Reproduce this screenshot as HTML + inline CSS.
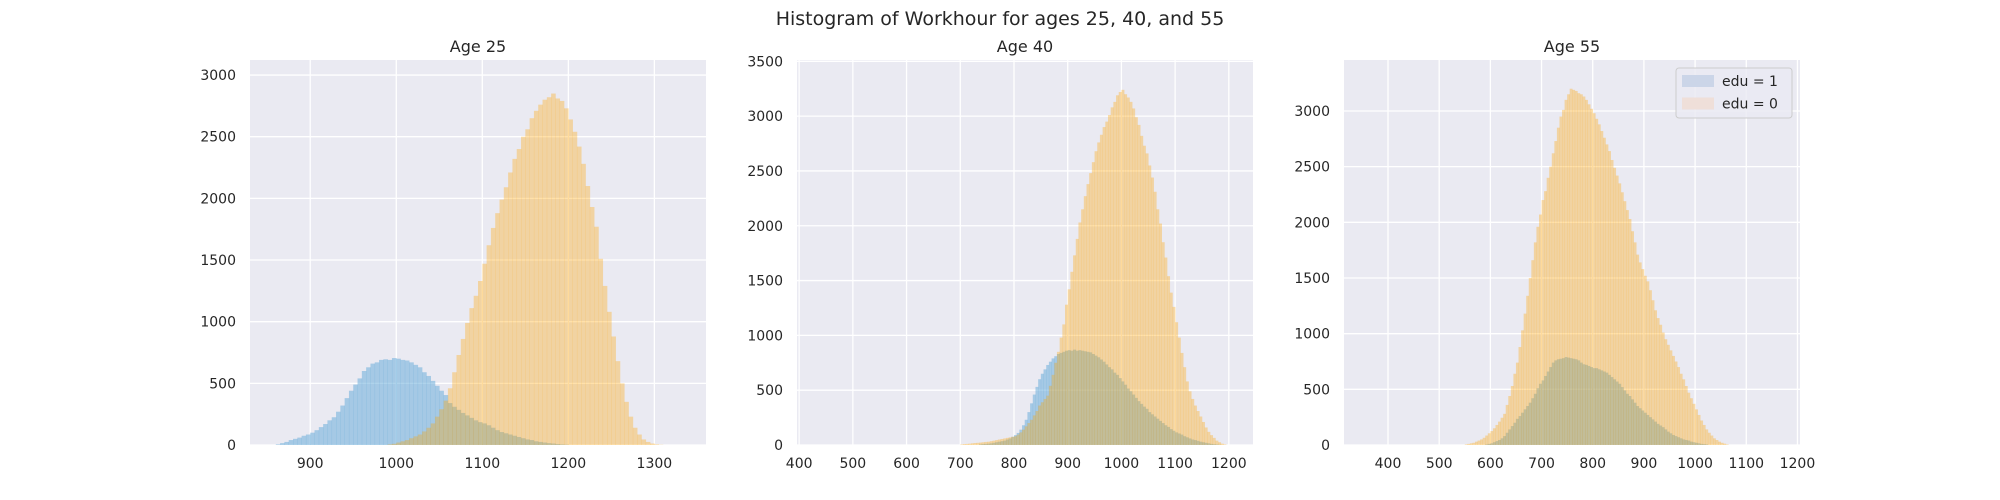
<!DOCTYPE html>
<html><head><meta charset="utf-8"><style>
html,body{margin:0;padding:0;background:#fff;}
svg{display:block;font-family:"DejaVu Sans","Liberation Sans",sans-serif;}
</style></head><body>
<svg id="fig" width="2000" height="500" viewBox="0 0 2000 500" xmlns="http://www.w3.org/2000/svg">
<text x="1000" y="25" text-anchor="middle" font-size="19" fill="#262626">Histogram of Workhour for ages 25, 40, and 55</text>
</svg>
<script>
const binWidth = 5;
// Panel titles and axes
const panelTitles = ["Age 25", "Age 40", "Age 55"];
const xDomains = [[830, 1360], [396, 1245], [314, 1205]];
const yMaxes = [3122, 3512, 3458];
const xTicks = [[900,1000,1100,1200,1300],[400,500,600,700,800,900,1000,1100,1200],[400,500,600,700,800,900,1000,1100,1200]];
const yTicks = [[0,500,1000,1500,2000,2500,3000],[0,500,1000,1500,2000,2500,3000,3500],[0,500,1000,1500,2000,2500,3000]];
// Series: start bin and counts (bin width 5)
const edu1Start = [860, 735, 590];
const edu0Start = [990, 700, 550];
const age25Edu1 = [5,15,25,40,50,60,75,85,100,120,145,170,200,225,270,320,380,440,490,540,600,630,660,670,690,695,690,705,700,690,685,670,650,630,590,560,520,480,440,405,340,310,285,260,240,220,200,185,175,160,140,120,105,95,85,75,65,55,45,40,30,25,20,15,12,8,5,3];
const age25Edu0 = [5,10,20,30,40,55,70,85,110,140,175,230,290,360,460,590,730,860,990,1110,1210,1330,1470,1620,1760,1880,1990,2090,2210,2320,2400,2500,2560,2650,2710,2760,2800,2820,2850,2810,2790,2730,2640,2540,2420,2280,2100,1930,1770,1510,1290,1080,880,680,500,350,230,140,85,45,25,12,5,2];
const age40Edu1 = [5,8,10,12,15,20,25,30,35,40,50,60,75,90,110,140,180,230,300,380,460,530,600,650,690,730,760,790,810,830,840,850,860,865,860,870,860,865,860,855,850,845,830,815,800,780,760,735,710,690,660,640,610,580,550,515,490,460,430,400,375,350,330,300,280,260,240,220,200,180,165,145,130,115,105,95,80,70,60,50,45,38,30,25,20,15,10,7,5,3];
const age40Edu0 = [5,8,10,12,15,18,20,22,25,28,30,35,40,45,50,55,60,65,70,75,80,95,115,140,170,200,230,270,310,360,390,420,450,540,640,750,850,980,1100,1280,1420,1580,1730,1880,2030,2150,2270,2380,2480,2580,2680,2760,2830,2900,2950,3010,3080,3130,3190,3220,3240,3200,3170,3130,3070,2990,2920,2820,2730,2660,2550,2440,2310,2150,2020,1850,1710,1540,1390,1260,1120,980,840,710,580,490,420,360,310,260,210,160,120,90,65,40,25,12,5];
const age55Edu1 = [5,10,15,25,35,45,60,80,110,140,170,200,235,260,290,320,350,380,420,460,510,550,580,620,660,700,740,760,770,775,780,790,785,780,775,770,760,740,725,720,710,700,690,690,680,670,660,650,630,610,590,570,550,520,490,460,440,410,380,350,330,310,290,270,250,230,210,190,175,160,140,120,105,90,80,70,60,50,45,40,30,25,20,15,10,8,5];
const age55Edu0 = [5,10,15,20,30,40,50,65,85,105,125,150,180,210,245,280,360,440,530,640,740,880,1030,1180,1340,1500,1660,1820,1960,2070,2200,2280,2400,2500,2620,2730,2850,2950,3010,3100,3150,3200,3190,3180,3160,3150,3130,3100,3060,3020,2980,2930,2880,2820,2760,2700,2640,2560,2490,2420,2350,2270,2190,2110,2030,1920,1820,1710,1640,1580,1520,1470,1390,1300,1210,1140,1080,1010,950,900,850,800,750,700,640,590,530,470,420,370,320,270,220,180,140,110,85,60,45,30,20,12,5];
const edu1Series = [age25Edu1, age40Edu1, age55Edu1];
const edu0Series = [age25Edu0, age40Edu0, age55Edu0];
const legendLabels = ["edu = 1", "edu = 0"];

const NS = "http://www.w3.org/2000/svg";
const svg = document.getElementById("fig");
const panelLeft = [250, 797, 1344];
const panelW = 456, plotTop = 60, plotBottom = 445;
function mk(tag, attrs, parent){const e=document.createElementNS(NS,tag);for(const k in attrs)e.setAttribute(k,attrs[k]);parent.appendChild(e);return e;}

for (let p=0;p<3;p++){
  const L=panelLeft[p], x0=xDomains[p][0], x1=xDomains[p][1], ym=yMaxes[p];
  const xs=v=>L+(v-x0)/(x1-x0)*panelW;
  const ys=v=>plotBottom-v/ym*(plotBottom-plotTop);
  const g=mk("g",{},svg);
  
  
  const bg=mk("rect",{x:L,y:plotTop,width:panelW,height:plotBottom-plotTop,fill:"#eaeaf2"},g);
  
  
  const clipId="clip"+p;
  const cp=mk("clipPath",{id:clipId},g);mk("rect",{x:L,y:plotTop,width:panelW,height:plotBottom-plotTop},cp);
  xTicks[p].forEach(t=>{
    const X=xs(t);
    const gl=mk("line",{x1:X,x2:X,y1:plotTop,y2:plotBottom,stroke:"#fff","stroke-width":1.3},g);
    
    
    const tl=mk("text",{x:X,y:468,"text-anchor":"middle","font-size":14,fill:"#262626"},g);tl.textContent=t;
    
    
  });
  yTicks[p].forEach(t=>{
    const Y=ys(t);
    const gl=mk("line",{x1:L,x2:L+panelW,y1:Y,y2:Y,stroke:"#fff","stroke-width":1.3},g);
    
    
    const tl=mk("text",{x:L-14,y:Y+5,"text-anchor":"end","font-size":14,fill:"#262626"},g);tl.textContent=t;
    
    
  });
  const bars=mk("g",{"clip-path":"url(#"+clipId+")"},g);
  const draw=(arr,start,color,op,name)=>{
    const sg=mk("g",{fill:color,"fill-opacity":op},bars);
    
    
    arr.forEach((c,i)=>{
      const v=start+i*binWidth;
      const xa=xs(v), xb=xs(v+binWidth);
      const r=mk("rect",{x:xa,y:ys(c),width:xb-xa+0.3,height:plotBottom-ys(c)},sg);
      
      
    });
  };
  draw(edu1Series[p],edu1Start[p],"#5fa8d8",0.5,"edu1-bars");
  draw(edu0Series[p],edu0Start[p],"#ffa500",0.33,"edu0-bars");
  const tt=mk("text",{x:L+panelW/2,y:52,"text-anchor":"middle","font-size":16,fill:"#262626"},g);tt.textContent=panelTitles[p];
  
  
}
// legend
const lg=mk("g",{},svg);


mk("rect",{x:1676,y:68,width:116,height:50,rx:3,fill:"#eaeaf2","fill-opacity":0.8,stroke:"#cccccc"},lg);
const swC=["#cbd5e8","#efdfd9"];
legendLabels.forEach((lab,i)=>{
  const e=mk("g",{},lg);
  
  
  mk("rect",{x:1682,y:75+i*22.5,width:32,height:12,fill:swC[i]},e);
  const t=mk("text",{x:1722,y:86+i*22.5,"font-size":14,fill:"#262626"},e);t.textContent=lab;
});
</script>
</body></html>
